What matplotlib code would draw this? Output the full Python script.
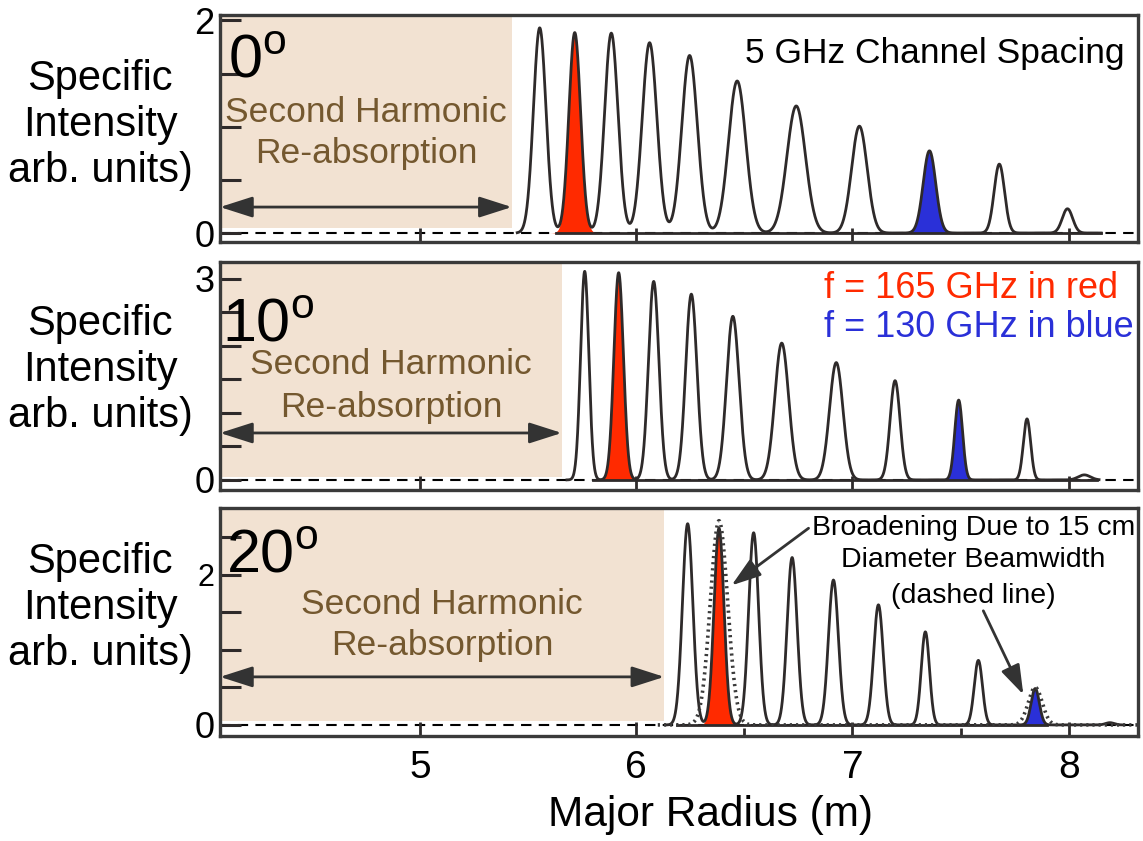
# Specific intensity vs major radius, three viewing angles

import numpy as np
import matplotlib
matplotlib.use('Agg')
import matplotlib.pyplot as plt

plt.rcParams['font.family'] = ['Liberation Sans', 'DejaVu Sans']
plt.rcParams['mathtext.fontset'] = 'custom'
plt.rcParams['mathtext.rm'] = 'Liberation Sans'

# peak centre (m), height (arb.), width sigma (m)
r_0 = [5.554, 5.716, 5.885, 6.062, 6.247, 6.467, 6.740, 7.032, 7.356, 7.679, 7.994]
h_0 = [1.93, 1.885, 1.88, 1.79, 1.67, 1.43, 1.195, 1.005, 0.773, 0.648, 0.228]
s_0 = [0.029, 0.027, 0.031, 0.034, 0.036, 0.040, 0.043, 0.036, 0.029, 0.024, 0.024]

r_10 = [5.762, 5.919, 6.081, 6.255, 6.447, 6.673, 6.925, 7.197, 7.491, 7.807, 8.072]
h_10 = [3.11, 3.09, 2.96, 2.77, 2.44, 2.04, 1.75, 1.48, 1.19, 0.91, 0.075]
s_10 = [0.019, 0.022, 0.024, 0.026, 0.029, 0.032, 0.031, 0.023, 0.018, 0.017, 0.028]

r_20 = [6.238, 6.383, 6.543, 6.721, 6.912, 7.120, 7.337, 7.582, 7.845, 8.19]
h_20 = [2.68, 2.62, 2.56, 2.23, 1.93, 1.60, 1.24, 0.86, 0.485, 0.03]
s_20 = [0.024, 0.023, 0.023, 0.023, 0.023, 0.022, 0.019, 0.019, 0.019, 0.02]

# broadened (15 cm beam) versions of the red and blue channels, 20 deg
r_wide = [6.383, 7.845]
h_wide = [2.72, 0.50]
s_wide = [0.040, 0.032]

red_idx = 1
blue_idx = 8

angles = ['0', '10', '20']
peaks = [(r_0, h_0, s_0), (r_10, h_10, s_10), (r_20, h_20, s_20)]
shade_edge = [5.425, 5.656, 6.13]
curve_span = [(5.45, 8.15), (5.68, 8.14), (6.14, 8.25)]
solid_base = [(5.63, 8.15), (5.80, 8.13), (6.19, 7.90)]
ylims = [(-0.085, 2.05), (-0.15, 3.25), (-0.147, 2.89)]
ytops = [2, 3, 2.5]
ylabels_top = ['2', '3', '']

XL = (4.076, 8.32)
dark = '#2e2a2a'
tan = '#f2e2d2'
brown = '#74582f'
red = '#ff2a00'
blue = '#2a30d8'


def gauss(x, c, h, s):
    return h * np.exp(-0.5 * ((x - c) / s) ** 2)


fig = plt.figure(figsize=(11.43, 8.41), dpi=100)
boxes = [[0.1925, 0.7122, 0.8031, 0.2699],
         [0.1925, 0.4174, 0.8031, 0.2711],
         [0.1925, 0.1249, 0.8031, 0.2711]]
axes = [fig.add_axes(b) for b in boxes]

for i, ax in enumerate(axes):
    r, h, s = peaks[i]
    ax.set_xlim(*XL)
    ax.set_ylim(*ylims[i])
    y0, y1 = ylims[i]

    # re-absorption zone
    ax.axvspan(XL[0], shade_edge[i], ymin=(0.05 - y0) / (y1 - y0), ymax=1,
               color=tan, lw=0, zorder=0)

    ax.axhline(0, color='black', lw=1.5, ls=(0, (5, 3.5)), zorder=1)
    ax.plot(solid_base[i], [0, 0], color=dark, lw=2.0, zorder=3)

    x = np.linspace(curve_span[i][0], curve_span[i][1], 3000)
    y = np.zeros_like(x)
    for c, hh, ss in zip(r, h, s):
        y += gauss(x, c, hh, ss)
    ax.fill_between(x, gauss(x, r[red_idx], h[red_idx], s[red_idx]),
                    color=red, lw=0, zorder=2)
    ax.fill_between(x, gauss(x, r[blue_idx], h[blue_idx], s[blue_idx]),
                    color=blue, lw=0, zorder=2)
    ax.plot(x, y, color=dark, lw=2.0, zorder=4)

    # double arrow across the shaded zone
    ya = [0.244, 0.70, 0.64][i]
    ax.annotate('', xy=(shade_edge[i], ya), xytext=(XL[0], ya),
                arrowprops=dict(arrowstyle='<|-|>,head_length=1.0,head_width=0.32',
                                color='#333333', lw=2.0, mutation_scale=20,
                                shrinkA=0, shrinkB=0), zorder=5)
    xc = (XL[0] + shade_edge[i]) / 2
    sh_y = [(1.04, 0.66), (1.58, 0.94), (1.48, 0.933)][i]
    ax.text(xc, sh_y[0], 'Second Harmonic', color=brown, fontsize=25.5,
            ha='center', va='baseline')
    ax.text(xc, sh_y[1], 'Re-absorption', color=brown, fontsize=25.5,
            ha='center', va='baseline')

    ang_pos = [(4.113, 1.465), (4.085, 2.06), (4.104, 2.03)][i]
    ax.text(ang_pos[0], ang_pos[1], angles[i] + r'$^{\mathrm{o}}$', fontsize=44,
            ha='left', va='baseline')

    # ticks
    ax.set_yticks(np.arange(0, ytops[i] + 0.01, 0.5))
    labs = [''] * len(ax.get_yticks())
    labs[0] = '0'
    if i == 2:
        labs[4] = '2'
    else:
        labs[-1] = ylabels_top[i]
    ax.set_yticklabels(labs)
    ax.tick_params(axis='y', direction='in', length=15, width=2.2, color=dark,
                   labelsize=26, pad=4, left=True, right=False)
    ax.set_xticks([5, 6, 7, 8])
    ax.tick_params(axis='x', direction='in', length=10, width=2.0, color=dark,
                   labelsize=28, pad=10)
    if i < 2:
        ax.set_xticklabels([])
    else:
        ax.set_xticks([6.5, 7.5], minor=True)
        ax.tick_params(axis='x', which='minor', direction='in', length=6,
                       width=2.0, color=dark)
    for sp in ax.spines.values():
        sp.set_color('#3a3a3a')
        sp.set_linewidth(2.4)

    yc = [125, 370, 608][i]
    fig.text(100 / 1143, 1 - yc / 841, 'Specific\nIntensity\narb. units)',
             fontsize=30, ha='center', va='center', multialignment='center')

axes[2].get_yticklabels()[4].set_fontsize(22)

# panel annotations
axes[0].text(8.256, 1.596, '5 GHz Channel Spacing', fontsize=25.5,
             ha='right', va='baseline')
axes[1].text(6.87, 2.716, 'f = 165 GHz in red', color=red, fontsize=26,
             ha='left', va='baseline')
axes[1].text(6.87, 2.134, 'f = 130 GHz in blue', color=blue, fontsize=26,
             ha='left', va='baseline')

ax = axes[2]
xw = np.linspace(6.10, 8.32, 3000)
yw = np.zeros_like(xw)
for c, hh, ss in zip(r_wide, h_wide, s_wide):
    yw += gauss(xw, c, hh, ss)
ax.plot(xw, yw, color='#3a3a3a', lw=2.6, ls=(0, (0.6, 1.1)), zorder=5)

for txt, yb in [('Broadening Due to 15 cm', 2.533), ('Diameter Beamwidth', 2.11),
                ('(dashed line)', 1.63)]:
    ax.text(7.559, yb, txt, fontsize=20.5, ha='center', va='baseline')
ax.annotate('', xy=(6.441, 1.859), xytext=(6.797, 2.62),
            arrowprops=dict(arrowstyle='-|>,head_length=0.9,head_width=0.3',
                            color='#333333', lw=2.0, mutation_scale=20,
                            shrinkA=0, shrinkB=0), zorder=6)
ax.annotate('', xy=(7.790, 0.405), xytext=(7.605, 1.52),
            arrowprops=dict(arrowstyle='-|>,head_length=0.9,head_width=0.3',
                            color='#333333', lw=2.0, mutation_scale=20,
                            shrinkA=0, shrinkB=0), zorder=6)

fig.text(710 / 1143, 1 - 815 / 841, 'Major Radius (m)', fontsize=30.5,
         ha='center', va='center')

fig.savefig('out.png', dpi=100)
